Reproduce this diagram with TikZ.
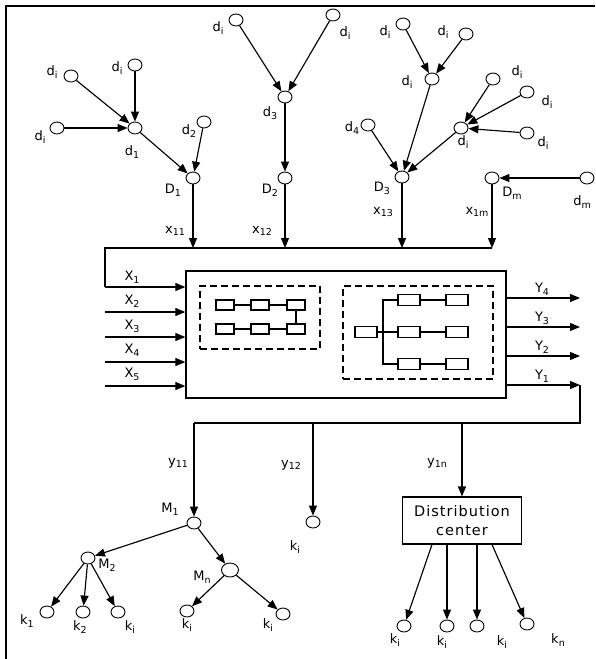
\documentclass[tikz,border=0pt]{standalone}
\usepackage{fontspec}
\setmainfont{DejaVu Sans}
\newfontfamily\distfont[LetterSpace=7]{DejaVu Sans}
\usetikzlibrary{arrows.meta,shapes.geometric}
\newcommand\lbsub[2]{#1\raisebox{-0.4ex}{\fontsize{9.5}{9.5}\selectfont #2}}
\begin{document}
\begin{tikzpicture}[x=1pt,y=-1pt,
  vtx/.style={draw, ellipse, minimum width=14pt, minimum height=12pt, inner sep=0pt, line width=0.9pt},
  lbl/.style={font=\fontsize{13}{13}\selectfont, inner sep=0pt},
  arr/.style={line width=1.15pt, -{Triangle[length=10pt,width=8pt]}},
  ln/.style={line width=1.15pt},
  sbox/.style={draw, minimum width=18pt, minimum height=10pt, inner sep=0pt, line width=1.1pt},
  wbox/.style={sbox, minimum width=22pt, minimum height=11pt},
  dbox/.style={draw, dash pattern=on 7pt off 4pt, line width=1.3pt, inner sep=0pt},
]
\useasboundingbox (0,0) rectangle (595,659);
\draw[line width=1.3pt] (6,659) -- (6,6) -- (595,6);

% ---------- top tree ----------
\node[vtx] (a1) at (71,76) {};
\node[vtx] (a2) at (135,65) {};
\node[vtx] (a3) at (57,128) {};
\node[vtx] (d1) at (135,128) {};
\node[vtx] (d2) at (204,122) {};
\node[vtx] (D1) at (193,178) {};
\node[vtx] (b1) at (236,20) {};
\node[vtx] (b2) at (333,15) {};
\node[vtx] (d3) at (285,97) {};
\node[vtx] (D2) at (285,178) {};
\node[vtx] (c1) at (403,24) {};
\node[vtx] (c2) at (466,34) {};
\node[vtx] (c3) at (432,79) {};
\node[vtx] (d4) at (368,125) {};
\node[vtx] (D3) at (402,177) {};
\node[vtx] (c4) at (461,128) {};
\node[vtx] (c5) at (493,79) {};
\node[vtx] (c6) at (527,92) {};
\node[vtx] (c7) at (527,133) {};
\node[vtx] (Dm) at (492,178) {};
\node[vtx] (dm) at (587,178) {};

\draw[arr] (a1) -- (d1);
\draw[arr] (a2) -- (d1);
\draw[arr] (a3) -- (d1);
\draw[arr] (d1) -- (D1);
\draw[arr] (d2) -- (D1);
\draw[arr] (b1) -- (d3);
\draw[arr] (b2) -- (d3);
\draw[arr] (d3) -- (D2);
\draw[arr] (c1) -- (c3);
\draw[arr] (c2) -- (c3);
\draw[arr] (c3) -- (D3);
\draw[arr] (d4) -- (D3);
\draw[arr] (c4) -- (D3);
\draw[arr] (c5) -- (c4);
\draw[arr] (c6) -- (c4);
\draw[arr] (c7) -- (c4);
\draw[arr] (dm) -- (Dm);

\node[lbl] (la1) at (52,72) {\lbsub{d}{i}};
\node[lbl] (la2) at (117,68) {\lbsub{d}{i}};
\node[lbl] (la3) at (40,137) {\lbsub{d}{i}};
\node[lbl] (ld1) at (132,152) {\lbsub{d}{1}};
\node[lbl] (ld2) at (189,131) {\lbsub{d}{2}};
\node[lbl] (lD1) at (173,190) {\lbsub{D}{1}};
\node[lbl] (lb1) at (218,28) {\lbsub{d}{i}};
\node[lbl] (ld3) at (270,113) {\lbsub{d}{3}};
\node[lbl] (lD2) at (270,190) {\lbsub{D}{2}};
\node[lbl] (lb2) at (345,33) {\lbsub{d}{i}};
\node[lbl] (lc1) at (385,32) {\lbsub{d}{i}};
\node[lbl] (lc2) at (443,32) {\lbsub{d}{i}};
\node[lbl] (lc3) at (407,82) {\lbsub{d}{i}};
\node[lbl] (ld4) at (352,128) {\lbsub{d}{4}};
\node[lbl] (lD3) at (382,188) {\lbsub{D}{3}};
\node[lbl] (lc4) at (463,142) {\lbsub{d}{i}};
\node[lbl] (lc5) at (517,72) {\lbsub{d}{i}};
\node[lbl] (lc6) at (547,102) {\lbsub{d}{i}};
\node[lbl] (lc7) at (543,143) {\lbsub{d}{i}};
\node[lbl] (lDm) at (512,193) {\lbsub{D}{m}};
\node[lbl] (ldm) at (582,202) {\lbsub{d}{m}};

% ---------- top bus ----------
\coordinate (t1) at (193,248);
\coordinate (t2) at (285,248);
\coordinate (t3) at (402,248);
\coordinate (t4) at (492,248);
\coordinate (tL) at (105,248);
\coordinate (x1c) at (105,287);
\draw[arr] (D1) -- (t1);
\draw[arr] (D2) -- (t2);
\draw[arr] (D3) -- (t3);
\draw[arr] (Dm) -- (t4);
\draw[ln] (t4) -- (tL) -- (x1c);
\node[lbl] (lx11) at (175,231) {\lbsub{x}{11}};
\node[lbl] (lx12) at (262,231) {\lbsub{x}{12}};
\node[lbl] (lx13) at (383,212) {\lbsub{x}{13}};
\node[lbl] (lx1m) at (477,212) {\lbsub{x}{1m}};

% ---------- main box ----------
\node[draw, line width=1.3pt, minimum width=320pt, minimum height=127pt, inner sep=0pt] (box) at (346,334.5) {};
\node[dbox, minimum width=120pt, minimum height=63pt] (dl) at (260,317.5) {};
\node[dbox, minimum width=150pt, minimum height=93pt] (dr) at (418,332.5) {};

\node[sbox] (p1) at (225,305) {};
\node[sbox] (p2) at (260,305) {};
\node[sbox] (p3) at (296,305) {};
\node[sbox] (p4) at (225,329) {};
\node[sbox] (p5) at (260,329) {};
\node[sbox] (p6) at (296,329) {};
\draw[ln] (p1) -- (p2) -- (p3) -- (p6);
\draw[ln] (p4) -- (p5) -- (p6);

\node[wbox] (q0) at (366,332) {};
\node[wbox] (q1) at (409,300) {};
\node[wbox] (q2) at (409,332) {};
\node[wbox] (q3) at (409,364) {};
\node[wbox] (q4) at (457,300) {};
\node[wbox] (q5) at (457,332) {};
\node[wbox] (q6) at (457,364) {};
\coordinate (tr1) at (383,300);
\coordinate (tr3) at (383,364);
\draw[ln] (q0) -- (q2) -- (q5);
\draw[ln] (q1) -- (tr1) -- (tr3) -- (q3);
\draw[ln] (q1) -- (q4);
\draw[ln] (q3) -- (q6);

% inputs
\coordinate (xi2) at (105,312);
\coordinate (xi3) at (105,337);
\coordinate (xi4) at (105,362);
\coordinate (xi5) at (105,386);
\draw[arr] (x1c) -- (box.west |- x1c);
\draw[arr] (xi2) -- (box.west |- xi2);
\draw[arr] (xi3) -- (box.west |- xi3);
\draw[arr] (xi4) -- (box.west |- xi4);
\draw[arr] (xi5) -- (box.west |- xi5);
\node[lbl] (lX1) at (132,277) {\lbsub{X}{1}};
\node[lbl] (lX2) at (132,301) {\lbsub{X}{2}};
\node[lbl] (lX3) at (132,326) {\lbsub{X}{3}};
\node[lbl] (lX4) at (132,350) {\lbsub{X}{4}};
\node[lbl] (lX5) at (132,374) {\lbsub{X}{5}};

% outputs
\coordinate (o4) at (580,298);
\coordinate (o3) at (580,327);
\coordinate (o2) at (580,356);
\coordinate (o1) at (580,385);
\draw[arr] (box.east |- o4) -- (o4);
\draw[arr] (box.east |- o3) -- (o3);
\draw[arr] (box.east |- o2) -- (o2);
\draw[arr] (box.east |- o1) -- (o1);
\node[lbl] (lY4) at (542,289) {\lbsub{Y}{4}};
\node[lbl] (lY3) at (542,318) {\lbsub{Y}{3}};
\node[lbl] (lY2) at (542,347) {\lbsub{Y}{2}};
\node[lbl] (lY1) at (542,376) {\lbsub{Y}{1}};

% ---------- bottom bus ----------
\coordinate (yc) at (580,423);
\coordinate (bL) at (194,423);
\coordinate (bk) at (313,423);
\coordinate (bD) at (462,423);
\draw[ln] (o1) -- (yc) -- (bL);

\node[vtx] (M1) at (194,523) {};
\node[vtx] (k0) at (313,522) {};
\node[vtx] (M2) at (88,558) {};
\node[vtx, minimum width=17pt, minimum height=14pt] (Mn) at (230,570) {};
\node[vtx] (k1) at (47,612) {};
\node[vtx] (k2) at (83,612) {};
\node[vtx] (k3) at (118,612) {};
\node[vtx] (k4) at (187,611) {};
\node[vtx] (k5) at (283,614) {};
\node[draw, line width=1.1pt, minimum width=119pt, minimum height=47pt, inner sep=0pt, align=center,
      font=\distfont\fontsize{14.5}{19}\selectfont] (dc) at (462,520.5) {Distribution\\center};
\node[vtx] (k6) at (404,626) {};
\node[vtx] (k7) at (447,626) {};
\node[vtx] (k8) at (477,626) {};
\node[vtx] (k9) at (527,624) {};

\draw[arr] (bL) -- (M1);
\draw[arr] (bk) -- (k0);
\draw[arr] (bD) -- (dc);
\draw[arr] (M1) -- (M2);
\draw[arr] (M1) -- (Mn);
\draw[arr] (M2) -- (k1);
\draw[arr] (M2) -- (k2);
\draw[arr] (M2) -- (k3);
\draw[arr] (Mn) -- (k4);
\draw[arr] (Mn) -- (k5);
\draw[arr] ([xshift=-30pt]dc.south) -- (k6);
\draw[arr] ([xshift=-15pt]dc.south) -- (k7);
\draw[arr] ([xshift=15pt]dc.south) -- (k8);
\draw[arr] ([xshift=30pt]dc.south) -- (k9);

\node[lbl] (ly11) at (178,463) {\lbsub{y}{11}};
\node[lbl] (ly12) at (291,465) {\lbsub{y}{12}};
\node[lbl] (ly1n) at (437,463) {\lbsub{y}{1n}};
\node[lbl] (lM1) at (170,509) {\lbsub{M}{1}};
\node[lbl] (lk0) at (295,547) {\lbsub{k}{i}};
\node[lbl] (lM2) at (107,565) {\lbsub{M}{2}};
\node[lbl] (lMn) at (202,577) {\lbsub{M}{n}};
\node[lbl] (lk1) at (27,621) {\lbsub{k}{1}};
\node[lbl] (lk2) at (80,627) {\lbsub{k}{2}};
\node[lbl] (lk3) at (130,627) {\lbsub{k}{i}};
\node[lbl] (lk4) at (187,625) {\lbsub{k}{i}};
\node[lbl] (lk5) at (268,625) {\lbsub{k}{i}};
\node[lbl] (lk6) at (395,640) {\lbsub{k}{i}};
\node[lbl] (lk7) at (442,642) {\lbsub{k}{i}};
\node[lbl] (lk8) at (502,642) {\lbsub{k}{i}};
\node[lbl] (lk9) at (558,640) {\lbsub{k}{n}};
\end{tikzpicture}
\end{document}
